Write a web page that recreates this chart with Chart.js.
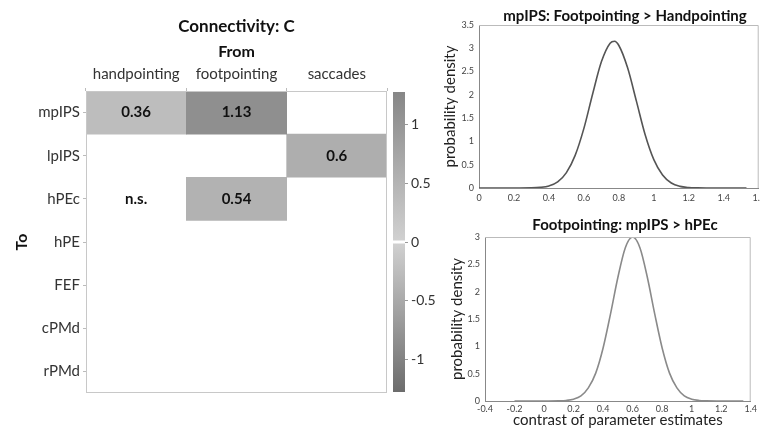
<!DOCTYPE html>
<html>
<head>
<meta charset="utf-8">
<script src="https://cdn.jsdelivr.net/npm/chart.js@4.4.1/dist/chart.umd.min.js"></script>
<style>
  body { margin: 0; width: 760px; height: 432px; overflow: hidden; background: #fff; position: relative; }
  canvas { position: absolute; }
</style>
</head>
<body>
<canvas id="matrix" width="440" height="432" style="left:0;top:0"></canvas>
<canvas id="colorbar" width="50" height="432" style="left:388px;top:0"></canvas>
<canvas id="footHand" width="330" height="210" style="left:440px;top:0"></canvas>
<canvas id="mpipsHpec" width="320" height="222" style="left:440px;top:210px"></canvas>
<script>
const sources = ["handpointing", "footpointing", "saccades"];
const targets = ["mpIPS", "lpIPS", "hPEc", "hPE", "FEF", "cPMd", "rPMd"];
// rows = To, columns = From; null = no significant modulation
const connectivity = [
  [0.36, 1.13, null],
  [null, null, 0.6],
  [null, 0.54, null],
  [null, null, null],
  [null, null, null],
  [null, null, null],
  [null, null, null],
];
const notSignificant = [[2, 0]]; // [row, col]
const colorbarRange = [-1.28, 1.28];
const colorbarTicks = [-1, -0.5, 0, 0.5, 1];

// posterior densities
const footHandX = [0, 0.1, 0.2, 0.3, 0.35, 0.4, 0.45, 0.5, 0.55, 0.6, 0.65, 0.7, 0.75, 0.775, 0.8, 0.85, 0.9, 0.95, 1.0, 1.05, 1.1, 1.15, 1.2, 1.25, 1.3, 1.4, 1.53];
const footHandY = [0, 0, 0, 0.003, 0.013, 0.045, 0.13, 0.33, 0.70, 1.28, 2.02, 2.71, 3.11, 3.15, 3.06, 2.58, 1.87, 1.15, 0.61, 0.28, 0.107, 0.035, 0.010, 0.003, 0, 0, 0];
const mpipsHpecX = [-0.2, 0, 0.1, 0.15, 0.2, 0.25, 0.3, 0.35, 0.4, 0.45, 0.5, 0.55, 0.6, 0.65, 0.7, 0.75, 0.8, 0.85, 0.9, 0.95, 1.0, 1.05, 1.1, 1.2, 1.35];
const mpipsHpecY = [0, 0, 0.003, 0.010, 0.033, 0.094, 0.24, 0.51, 0.97, 1.59, 2.26, 2.80, 3.0, 2.80, 2.26, 1.59, 0.97, 0.51, 0.24, 0.094, 0.033, 0.010, 0.003, 0, 0];

const FONT = "Lato";

// gray colormap: white at 0, darker with magnitude
function grayFor(v) {
  const g = Math.round(v >= 0 ? 210 - 59.7 * v : 210 + 80 * v);
  return `rgb(${g},${g},${g})`;
}

// matlab-style tick text: 1 not 1.0
const plainTick = v => String(Math.round(v * 100) / 100);

const matrixText = {
  id: "matrixText",
  afterDatasetsDraw(chart) {
    const { ctx, chartArea: a, scales: { x, y } } = chart;
    ctx.save();
    ctx.strokeStyle = "#c8c8c8";
    ctx.lineWidth = 1;
    ctx.strokeRect(a.left + 0.5, a.top + 0.5, a.width - 1, a.height - 1);
    ctx.fillStyle = "#111";
    ctx.textAlign = "center";
    ctx.textBaseline = "middle";
    ctx.font = `bold 15px ${FONT}`;
    connectivity.forEach((row, r) => row.forEach((v, c) => {
      let txt = "";
      if (v !== null) txt = String(v);
      else if (notSignificant.some(([rr, cc]) => rr === r && cc === c)) txt = "n.s.";
      if (txt) ctx.fillText(txt, x.getPixelForValue(c), y.getPixelForValue(r + 0.5));
    }));
    const cx = (a.left + a.right) / 2;
    ctx.font = `bold 17px ${FONT}`;
    ctx.fillText("Connectivity: C", cx, 27);
    ctx.font = `bold 16px ${FONT}`;
    ctx.fillText("From", cx, 52);
    ctx.translate(22, (a.top + a.bottom) / 2);
    ctx.rotate(-Math.PI / 2);
    ctx.fillText("To", 0, 0);
    ctx.restore();
  }
};

new Chart(document.getElementById("matrix"), {
  type: "bar",
  data: {
    labels: sources,
    datasets: targets.map((t, r) => ({
      label: t,
      data: connectivity[r].map(v => (v === null ? null : [r, r + 1])),
      backgroundColor: connectivity[r].map(v => (v === null ? "rgba(0,0,0,0)" : grayFor(v))),
      borderWidth: 0,
      barPercentage: 1,
      categoryPercentage: 1,
      grouped: false,
    })),
  },
  options: {
    responsive: false,
    animation: false,
    layout: { padding: { left: 0, top: 0, right: 53, bottom: 39 } },
    plugins: { legend: { display: false }, tooltip: { enabled: false } },
    scales: {
      x: {
        position: "top",
        grid: { drawOnChartArea: false, tickLength: 3, color: "#bbb" },
        border: { display: false },
        ticks: { font: { family: FONT, size: 15 }, color: "#333", padding: 5 },
        afterFit: s => { s.height = 91; },
      },
      y: {
        type: "linear",
        min: 0,
        max: 7,
        reverse: true,
        afterBuildTicks: s => { s.ticks = targets.map((_, i) => ({ value: i + 0.5 })); },
        grid: { drawOnChartArea: false, tickLength: 3, color: "#bbb" },
        border: { display: false },
        ticks: { callback: v => targets[Math.floor(v)], font: { family: FONT, size: 15 }, color: "#333", padding: 3 },
        afterFit: s => { s.width = 86; },
      },
    },
  },
  plugins: [matrixText],
});

function colorbarFill(context) {
  const { ctx, chartArea } = context.chart;
  if (!chartArea) return "#bbb";
  const g = ctx.createLinearGradient(0, chartArea.top, 0, chartArea.bottom);
  g.addColorStop(0, grayFor(colorbarRange[1]));
  g.addColorStop(0.494, grayFor(0.03));
  g.addColorStop(0.496, "#fff");
  g.addColorStop(0.504, "#fff");
  g.addColorStop(0.506, grayFor(-0.03));
  g.addColorStop(1, grayFor(colorbarRange[0]));
  return g;
}

new Chart(document.getElementById("colorbar"), {
  type: "bar",
  data: {
    labels: [""],
    datasets: [{ data: [colorbarRange], backgroundColor: colorbarFill, borderWidth: 0, barPercentage: 1, categoryPercentage: 1 }],
  },
  options: {
    responsive: false,
    animation: false,
    layout: { padding: { left: 5, top: 92, bottom: 40, right: 0 } },
    plugins: { legend: { display: false }, tooltip: { enabled: false } },
    scales: {
      x: { display: false },
      y: {
        position: "right",
        min: colorbarRange[0],
        max: colorbarRange[1],
        afterBuildTicks: s => { s.ticks = colorbarTicks.map(v => ({ value: v })); },
        grid: { drawOnChartArea: false, tickLength: 3, color: "#999" },
        border: { display: false },
        ticks: { callback: plainTick, font: { family: FONT, size: 14 }, color: "#333", padding: 3 },
        afterFit: s => { s.width = 33; },
      },
    },
  },
});

const panelFrame = {
  id: "panelFrame",
  afterDraw(chart, args, opts) {
    const { ctx, chartArea: a } = chart;
    ctx.save();
    ctx.strokeStyle = "#bbb";
    ctx.lineWidth = 1;
    ctx.beginPath();
    ctx.moveTo(a.left, a.top + 0.5);
    ctx.lineTo(a.right - 0.5, a.top + 0.5);
    ctx.lineTo(a.right - 0.5, a.bottom);
    ctx.stroke();
    ctx.font = `bold 15px ${FONT}`;
    ctx.fillStyle = "#111";
    ctx.textAlign = "center";
    ctx.textBaseline = "middle";
    ctx.fillText(opts.text, opts.x, opts.y);
    ctx.restore();
  }
};

function densityChart(id, cfg) {
  return new Chart(document.getElementById(id), {
    type: "line",
    data: {
      datasets: [{
        data: cfg.xs.map((x, i) => ({ x, y: cfg.ys[i] })),
        borderColor: cfg.color,
        borderWidth: 1.6,
        pointRadius: 0,
        fill: false,
        cubicInterpolationMode: "monotone",
      }],
    },
    options: {
      responsive: false,
      animation: false,
      layout: { padding: cfg.padding },
      plugins: {
        legend: { display: false },
        tooltip: { enabled: false },
        panelFrame: { text: cfg.title, x: 185, y: cfg.titleY },
      },
      scales: {
        x: {
          type: "linear",
          min: cfg.xMin,
          max: cfg.xMax,
          ticks: { stepSize: 0.2, callback: plainTick, font: { family: FONT, size: 9 }, color: "#444", padding: cfg.xPad, maxRotation: 0, autoSkip: false },
          grid: { display: false, drawTicks: false },
          border: { color: "#888" },
          title: { display: !!cfg.xTitle, text: cfg.xTitle, font: { family: FONT, size: 15 }, color: "#222", padding: { top: 0, bottom: 3 } },
          afterFit: s => { s.height = cfg.xHeight; },
        },
        y: {
          min: 0,
          max: cfg.yMax,
          ticks: { stepSize: 0.5, callback: plainTick, font: { family: FONT, size: 9 }, color: "#444", padding: 5 },
          grid: { display: false, drawTicks: false },
          border: { color: "#888" },
          title: { display: true, text: "probability density", font: { family: FONT, size: 15 }, color: "#222", padding: { top: cfg.yTitlePad, bottom: 0 } },
          afterFit: s => { s.width = cfg.yWidth; },
        },
      },
    },
    plugins: [panelFrame],
  });
}

densityChart("footHand", {
  xs: footHandX, ys: footHandY, color: "#555",
  title: "mpIPS: Footpointing > Handpointing", titleY: 16,
  xMin: 0, xMax: 1.6, yMax: 3.5,
  padding: { left: 0, top: 25, right: 11, bottom: 0 },
  xHeight: 22, yWidth: 39, xPad: 5, yTitlePad: 1,
});

densityChart("mpipsHpec", {
  xs: mpipsHpecX, ys: mpipsHpecY, color: "#8a8a8a",
  title: "Footpointing: mpIPS > hPEc", titleY: 15,
  xMin: -0.4, xMax: 1.4, yMax: 3,
  padding: { left: 0, top: 27, right: 8, bottom: 0 },
  xHeight: 31, yWidth: 45, xPad: 3, yTitlePad: 8,
  xTitle: "contrast of parameter estimates",
});
</script>
</body>
</html>
